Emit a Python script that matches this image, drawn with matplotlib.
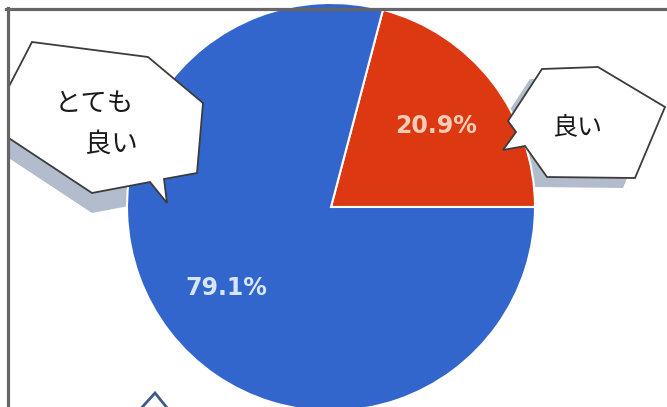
import matplotlib
matplotlib.use('Agg')
import matplotlib.pyplot as plt
from matplotlib.patches import Polygon, Rectangle

# data
labels = ['良い', 'とても\n良い']
shares = [20.9, 79.1]
colors = ['#dc3912', '#3366cc']

fig = plt.figure(figsize=(6.67, 4.07), dpi=100)
ax = fig.add_axes([0, 0, 1, 1])

# pie in pixel-like coords (y axis flipped later)
wedges, texts, autotexts = ax.pie(
    shares, colors=colors, startangle=0, counterclock=False,
    center=(331, 207), radius=204, autopct='%.1f%%', pctdistance=0.65,
    wedgeprops=dict(edgecolor='white', linewidth=1.5), frame=True)

ax.set_xlim(0, 667)
ax.set_ylim(407, 0)
ax.set_aspect('equal')
ax.axis('off')

# the photo is cropped by a frame
clip = Rectangle((8, 10), 659, 397, transform=ax.transData, fill=False)
for w in wedges:
    w.set_clip_path(clip)
    w.set_zorder(2)

autotexts[0].set_color('#f8cdb8')
autotexts[1].set_color('#d8e5fb')
for t in autotexts:
    t.set_fontsize(17)
    t.set_fontweight('bold')
    t.set_family(['DejaVu Sans'])
    t.set_zorder(3)

# speech bubbles
left_bubble = [(32, 42), (148, 57), (203, 103), (197, 173), (164, 179),
               (167, 203), (150, 182), (92, 193), (-11, 125)]
right_bubble = [(542, 69), (598, 67), (665, 107), (635, 178), (547, 177),
                (525, 146), (503, 150), (516, 132), (508, 121)]


def bubble(pts, dx, dy):
    sh = Polygon([(x + dx, y + dy) for x, y in pts], closed=True,
                 facecolor='#b3bccd', edgecolor='none', zorder=1)
    ax.add_patch(sh)
    sh.set_clip_path(clip)
    p = Polygon(pts, closed=True, facecolor='white', edgecolor='#3c3c3c',
                linewidth=1.3, zorder=5)
    ax.add_patch(p)
    p.set_clip_path(clip)


bubble(left_bubble, 0, 20)
bubble(right_bubble, -12, 10)

jp = ['Noto Sans CJK JP', 'DejaVu Sans']
ax.text(94, 103, 'とても', fontsize=19, family=jp, ha='center', va='center',
        color='#1a1a1a', zorder=6)
ax.text(111, 144, '良い', fontsize=19, family=jp, ha='center', va='center',
        color='#1a1a1a', zorder=6)
ax.text(577, 127, labels[0], fontsize=18, family=jp, ha='center', va='center',
        color='#1a1a1a', zorder=6)

# tip of another bubble at the bottom
ax.add_patch(Polygon([(136, 414), (155, 393), (172, 414)], closed=True,
                     facecolor='white', edgecolor='#3d5a86', linewidth=2,
                     zorder=5))

# frame of the screenshot
ax.plot([6, 667], [9, 9], color='#666666', lw=2.3, zorder=7, clip_on=False)
ax.plot([7.5, 7.5], [8, 407], color='#666666', lw=2.3, zorder=7, clip_on=False)

fig.savefig('out.png', dpi=100)
